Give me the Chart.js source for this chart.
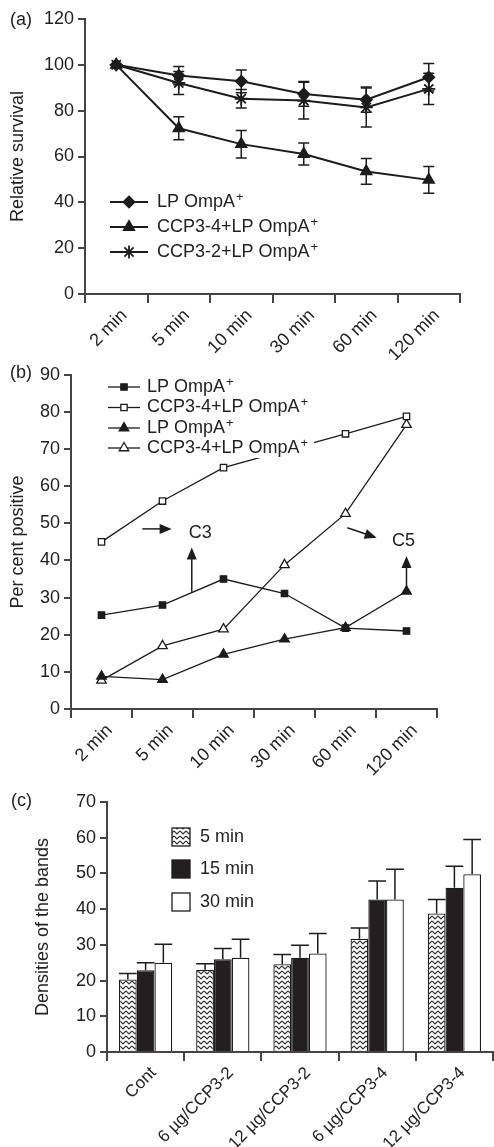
<!DOCTYPE html>
<html>
<head>
<meta charset="utf-8">
<script src="https://cdn.jsdelivr.net/npm/chart.js@4.4.1/dist/chart.umd.min.js"></script>
<style>
body{margin:0;background:#fff;width:494px;height:1147px;position:relative;overflow:hidden;font-family:"Liberation Sans",Arial,sans-serif}
canvas{position:absolute;left:0}
.tag{position:absolute;font-size:18px;color:#222;line-height:20px}
</style>
</head>
<body>
<canvas id="chartA" width="494" height="360" style="top:0"></canvas>
<canvas id="chartB" width="494" height="420" style="top:360px"></canvas>
<canvas id="chartC" width="494" height="367" style="top:780px"></canvas>
<div class="tag" style="left:10px;top:9px">(a)</div>
<div class="tag" style="left:10px;top:362px">(b)</div>
<div class="tag" style="left:11px;top:790px">(c)</div>
<script>
// Données
const timeLabels = ['2 min', '5 min', '10 min', '30 min', '60 min', '120 min']

// (a) survie relative
const survivalNames = ['LP OmpA⁺', 'CCP3-4+LP OmpA⁺', 'CCP3-2+LP OmpA⁺']
const survivalLP = [100, 95.3, 92.8, 87.3, 84.8, 94.6]
const survivalLPErr = [0, 4, 5, 5.4, 5.5, 6]
const survivalCCP34 = [100, 72.3, 65.4, 61.1, 53.5, 49.8]
const survivalCCP34Err = [0, 5, 6, 4.8, 5.6, 5.8]
const survivalCCP32 = [100, 92.1, 85.2, 84.4, 81.4, 89.5]
const survivalCCP32Err = [0, 5, 4, 8, 8.5, 6.8]

// (b) pourcentage positif (le point 30 min de la 2e série est caché sous la légende)
const positiveNames = ['LP OmpA⁺', 'CCP3-4+LP OmpA⁺', 'LP OmpA⁺', 'CCP3-4+LP OmpA⁺']
const c3LP = [25.3, 28, 35, 31.1, 21.8, 21]
const c3CCP = [45, 56, 65, null, 74.1, 78.8]
const c5LP = [8.8, 7.9, 14.7, 18.8, 21.9, 31.7]
const c5CCP = [7.7, 17, 21.5, 38.8, 52.6, 76.6]
// flèches : [index départ, valeur départ, index arrivée, valeur arrivée]
const markArrows = [
  [0.67, 48.5, 1.15, 48.5],
  [1.48, 31.6, 1.48, 43.5],
  [4.03, 48.8, 4.51, 46.1],
  [5.0, 32.3, 5.0, 41.2]
]
const markTexts = [['C3', 1.62, 47.5], ['C5', 4.95, 45.3]]

// (c) densités des bandes
const doseLabels = ['Cont', '6 µg/CCP3-2', '12 µg/CCP3-2', '6 µg/CCP3-4', '12 µg/CCP3-4']
const bandNames = ['5 min', '15 min', '30 min']
const band5 = [20.3, 23, 24.6, 31.7, 38.8]
const band5Err = [1.7, 1.7, 2.7, 3, 3.9]
const band15 = [22.9, 26, 26.4, 42.7, 46]
const band15Err = [2.1, 3, 3.5, 5.2, 6]
const band30 = [25, 26.4, 27.6, 42.7, 49.8]
const band30Err = [5.2, 5.2, 5.6, 8.5, 9.7]

const FONT = '"Liberation Sans", Arial, sans-serif'
const INK = '#1c1c1c'
Chart.defaults.font.family = FONT
Chart.defaults.color = '#222'

function drawSup(ctx, text, x, y){ // texte avec exposant +
  let parts = text.split('⁺')
  ctx.fillStyle = '#222'
  ctx.textAlign = 'left'
  ctx.textBaseline = 'middle'
  ctx.font = '18px ' + FONT
  ctx.fillText(parts[0], x, y)
  if (parts.length > 1){
    let w = ctx.measureText(parts[0]).width
    ctx.font = '13px ' + FONT
    ctx.fillText('+', x + w + 1, y - 5)
  }
}

// barres d'erreur
const errorBars = {
  id: 'errorBars',
  afterDatasetsDraw(chart){
    const ctx = chart.ctx
    const yScale = chart.scales.y
    ctx.save()
    ctx.strokeStyle = INK
    ctx.lineWidth = 1.5
    chart.data.datasets.forEach((ds, i) => {
      if (!ds.errors) return
      chart.getDatasetMeta(i).data.forEach((el, j) => {
        let v = ds.data[j], e = ds.errors[j]
        if (v == null || !e) return
        let top = yScale.getPixelForValue(v + e)
        let bot = ds.oneSided ? el.y : yScale.getPixelForValue(v - e)
        let half = (ds.capWidth || el.width) / 2
        ctx.beginPath()
        ctx.moveTo(el.x, top); ctx.lineTo(el.x, bot)
        ctx.moveTo(el.x - half, top); ctx.lineTo(el.x + half, top)
        if (!ds.oneSided){ ctx.moveTo(el.x - half, bot); ctx.lineTo(el.x + half, bot) }
        ctx.stroke()
      })
    })
    ctx.restore()
  }
}

// légende libre
const floatLegend = {
  id: 'floatLegend',
  afterDraw(chart, args, opts){
    if (!opts.rows) return
    const ctx = chart.ctx
    ctx.save()
    if (opts.background){
      ctx.fillStyle = '#fff'
      ctx.fillRect(opts.background[0], opts.background[1], opts.background[2], opts.background[3])
    }
    chart.data.datasets.forEach((ds, i) => {
      let y = opts.rows[i]
      if (opts.box){
        ctx.fillStyle = ds.backgroundColor
        ctx.fillRect(opts.x, y - 9, 18, 18)
        ctx.strokeStyle = INK
        ctx.lineWidth = 1.3
        ctx.strokeRect(opts.x, y - 9, 18, 18)
      } else {
        ctx.strokeStyle = INK
        ctx.lineWidth = ds.borderWidth
        ctx.beginPath()
        ctx.moveTo(opts.x, y); ctx.lineTo(opts.x + opts.len, y)
        ctx.stroke()
        ctx.fillStyle = ds.pointBackgroundColor
        ctx.strokeStyle = INK
        ctx.lineWidth = ds.pointBorderWidth
        Chart.helpers.drawPoint(ctx, {pointStyle: ds.pointStyle, radius: ds.pointRadius, rotation: 0, borderWidth: ds.pointBorderWidth}, opts.x + opts.len / 2, y)
      }
      drawSup(ctx, ds.label, opts.textX, y)
    })
    ctx.restore()
  }
}

// flèches et étiquettes C3 / C5
const marks = {
  id: 'marks',
  afterDatasetsDraw(chart){
    const ctx = chart.ctx, xs = chart.scales.x, ys = chart.scales.y
    ctx.save()
    ctx.strokeStyle = INK
    ctx.fillStyle = INK
    ctx.lineWidth = 1.5
    markArrows.forEach(a => {
      let x1 = xs.getPixelForValue(a[0]), y1 = ys.getPixelForValue(a[1])
      let x2 = xs.getPixelForValue(a[2]), y2 = ys.getPixelForValue(a[3])
      let ang = Math.atan2(y2 - y1, x2 - x1)
      ctx.beginPath()
      ctx.moveTo(x1, y1); ctx.lineTo(x2 - 10 * Math.cos(ang), y2 - 10 * Math.sin(ang))
      ctx.stroke()
      ctx.beginPath()
      ctx.moveTo(x2, y2)
      ctx.lineTo(x2 - 12 * Math.cos(ang) + 5 * Math.sin(ang), y2 - 12 * Math.sin(ang) - 5 * Math.cos(ang))
      ctx.lineTo(x2 - 12 * Math.cos(ang) - 5 * Math.sin(ang), y2 - 12 * Math.sin(ang) + 5 * Math.cos(ang))
      ctx.closePath()
      ctx.fill()
    })
    ctx.font = '18px ' + FONT
    ctx.textAlign = 'center'
    ctx.textBaseline = 'middle'
    ctx.fillStyle = '#222'
    markTexts.forEach(t => ctx.fillText(t[0], xs.getPixelForValue(t[1]), ys.getPixelForValue(t[2])))
    ctx.restore()
  }
}

function yAxis(max, step, title, width){
  return {
    min: 0, max: max,
    ticks: {stepSize: step, font: {size: 18}, color: '#222', padding: 4},
    grid: {drawOnChartArea: false, tickLength: 7, color: '#444', lineWidth: 2},
    border: {color: '#444', width: 2},
    title: {display: true, text: title, font: {size: 18}, color: '#222', padding: 0},
    afterFit: s => { s.width = width }
  }
}
function xAxis(height){
  return {
    type: 'category', offset: true,
    grid: {offset: true, drawOnChartArea: false, tickLength: 9, color: '#444', lineWidth: 2},
    border: {color: '#444', width: 2},
    ticks: {minRotation: 45, maxRotation: 45, font: {size: 18}, color: '#222', padding: 2, labelOffset: 8},
    afterFit: s => { s.height = height }
  }
}
function lineSet(label, data, style, radius, fill, width){
  return {
    label: label, data: data,
    borderColor: INK, borderWidth: width,
    pointStyle: style, pointRadius: radius,
    pointBackgroundColor: fill, pointBorderColor: INK, pointBorderWidth: 1.3,
    spanGaps: true, tension: 0
  }
}

// (a)
let setsA = [
  lineSet(survivalNames[0], survivalLP, 'rectRot', 5.5, INK, 2),
  lineSet(survivalNames[1], survivalCCP34, 'triangle', 6, INK, 2),
  lineSet(survivalNames[2], survivalCCP32, 'star', 6.5, INK, 2)
]
setsA[0].errors = survivalLPErr
setsA[1].errors = survivalCCP34Err
setsA[2].errors = survivalCCP32Err
setsA.forEach(s => { s.capWidth = 11; s.pointBorderWidth = 1.8 })

new Chart(document.getElementById('chartA'), {
  type: 'line',
  data: {labels: timeLabels, datasets: setsA},
  options: {
    responsive: false, animation: false,
    layout: {padding: {left: 7, right: 34, top: 19, bottom: 0}},
    scales: {x: xAxis(66), y: yAxis(120, 20, 'Relative survival', 78)},
    plugins: {
      legend: {display: false}, tooltip: {enabled: false},
      floatLegend: {x: 110, len: 38, textX: 157, rows: [202, 227, 252]}
    }
  },
  plugins: [errorBars, floatLegend]
})

// (b)
new Chart(document.getElementById('chartB'), {
  type: 'line',
  data: {labels: timeLabels, datasets: [
    lineSet(positiveNames[0], c3LP, 'rect', 4.5, INK, 1.3),
    lineSet(positiveNames[1], c3CCP, 'rect', 4.5, '#fff', 1.3),
    lineSet(positiveNames[2], c5LP, 'triangle', 5.5, INK, 1.3),
    lineSet(positiveNames[3], c5CCP, 'triangle', 5.5, '#fff', 1.3)
  ]},
  options: {
    responsive: false, animation: false,
    layout: {padding: {left: 7, right: 57, top: 13, bottom: 0}},
    scales: {x: xAxis(71), y: yAxis(90, 10, 'Per cent positive', 64)},
    plugins: {
      legend: {display: false}, tooltip: {enabled: false},
      floatLegend: {x: 108, len: 32, textX: 147, rows: [27, 47.5, 68, 88], background: [104, 16, 210, 82]}
    }
  },
  plugins: [marks, floatLegend]
})

// (c)
const ctxC = document.getElementById('chartC').getContext('2d')
function zigzag(){ // motif en chevrons
  let c = document.createElement('canvas')
  c.width = 6; c.height = 5
  let g = c.getContext('2d')
  g.fillStyle = '#fff'; g.fillRect(0, 0, 6, 5)
  g.strokeStyle = '#333'; g.lineWidth = 1.2
  g.beginPath(); g.moveTo(0, 1); g.lineTo(3, 4); g.lineTo(6, 1); g.stroke()
  return ctxC.createPattern(c, 'repeat')
}
function barSet(label, data, errs, fill){
  return {
    label: label, data: data, errors: errs, oneSided: true,
    backgroundColor: fill, borderColor: INK, borderWidth: 1.3,
    categoryPercentage: 0.69, barPercentage: 1
  }
}
let xC = xAxis(95)
xC.ticks.font = {size: 17}
new Chart(ctxC, {
  type: 'bar',
  data: {labels: doseLabels, datasets: [
    barSet(bandNames[0], band5, band5Err, zigzag()),
    barSet(bandNames[1], band15, band15Err, '#231f20'),
    barSet(bandNames[2], band30, band30Err, '#fff')
  ]},
  options: {
    responsive: false, animation: false,
    layout: {padding: {left: 32, right: 1, top: 22, bottom: 0}},
    scales: {x: xC, y: yAxis(70, 10, 'Densities of the bands', 75)},
    plugins: {
      legend: {display: false}, tooltip: {enabled: false},
      floatLegend: {x: 172, box: true, textX: 200, rows: [57, 89, 122]}
    }
  },
  plugins: [errorBars, floatLegend]
})
</script>
</body>
</html>
